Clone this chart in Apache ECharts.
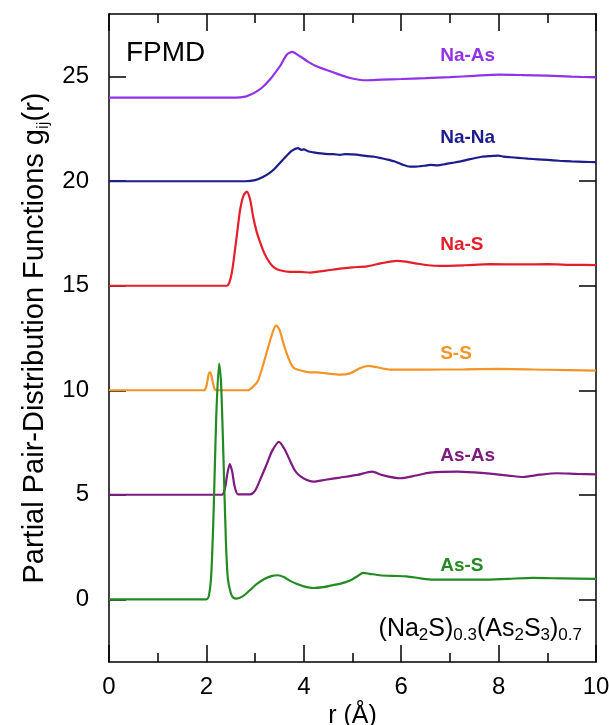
<!DOCTYPE html>
<html>
<head>
<meta charset="utf-8">
<script src="https://cdn.jsdelivr.net/npm/echarts@6/dist/echarts.min.js"></script>
<style>
html,body{margin:0;padding:0;background:#fff;overflow:hidden;}
#chart{width:609px;height:725px;}
</style>
</head>
<body>
<div id="chart"></div>
<script>
// ---- data (r in Å, g(r) with vertical offsets as plotted) ----
const seriesNames = ['Na-As', 'Na-Na', 'Na-S', 'S-S', 'As-As', 'As-S'];

const naAs = [[0,24],[2.6,24],[2.8,24.05],[2.9,24.14],[3.0,24.25],[3.14,24.47],[3.3,24.85],[3.4,25.15],[3.51,25.5],[3.65,26.05],[3.76,26.19],[3.92,25.98],[4.1,25.7],[4.26,25.5],[4.6,25.21],[4.95,24.94],[5.29,24.83],[5.6,24.86],[6.0,24.89],[6.5,24.93],[7.0,24.98],[7.5,25.04],[8.0,25.1],[8.5,25.08],[9.0,25.05],[9.5,25.0],[10,24.97]];

const naNa = [[0,20],[2.8,20],[3.0,20.05],[3.16,20.2],[3.3,20.4],[3.4,20.6],[3.5,20.85],[3.6,21.1],[3.75,21.45],[3.88,21.58],[3.95,21.5],[4.0,21.52],[4.1,21.42],[4.2,21.38],[4.35,21.33],[4.5,21.3],[4.6,21.3],[4.74,21.26],[4.85,21.3],[5.0,21.28],[5.15,21.25],[5.3,21.2],[5.45,21.17],[5.6,21.1],[5.75,21.02],[5.87,20.94],[6.0,20.82],[6.18,20.7],[6.3,20.7],[6.4,20.72],[6.5,20.75],[6.6,20.78],[6.75,20.76],[6.9,20.82],[7.05,20.88],[7.2,20.94],[7.35,21.02],[7.5,21.1],[7.65,21.17],[7.82,21.2],[8.0,21.22],[8.1,21.18],[8.23,21.15],[8.4,21.12],[8.6,21.08],[8.8,21.05],[9.0,21.02],[9.25,20.98],[9.5,20.95],[9.75,20.93],[10,20.91]];

const naS = [[0,15],[2.42,15],[2.47,15.15],[2.52,15.6],[2.57,16.4],[2.63,17.5],[2.69,18.6],[2.76,19.3],[2.83,19.5],[2.9,19.1],[2.96,18.3],[3.03,17.6],[3.1,17.1],[3.2,16.5],[3.31,16.07],[3.4,15.85],[3.51,15.74],[3.72,15.66],[3.92,15.66],[4.13,15.63],[4.45,15.72],[4.74,15.82],[5.0,15.88],[5.3,15.93],[5.6,16.08],[5.91,16.19],[6.1,16.15],[6.32,16.06],[6.55,15.98],[6.8,15.95],[7.3,15.98],[7.82,16.03],[8.5,16.02],[9.0,16.03],[9.5,16.0],[10,15.99]];

const sS = [[0,10],[1.95,10],[2.0,10.2],[2.05,10.8],[2.08,10.86],[2.12,10.5],[2.17,10.05],[2.22,10],[2.85,10],[2.95,10.15],[3.06,10.46],[3.15,11.1],[3.25,11.9],[3.35,12.7],[3.43,13.1],[3.5,12.9],[3.6,12.1],[3.7,11.45],[3.78,11.1],[3.88,10.98],[4.13,10.86],[4.27,10.86],[4.5,10.8],[4.74,10.75],[4.95,10.81],[5.15,11.05],[5.32,11.17],[5.5,11.1],[5.77,10.99],[6.5,10.99],[7.3,11.0],[8.0,11.02],[9.0,10.98],[10,10.94]];

const asAs = [[0,5],[2.32,5],[2.38,5.3],[2.43,6.0],[2.48,6.47],[2.53,6.1],[2.58,5.4],[2.65,5.02],[2.9,5.02],[3.0,5.2],[3.1,5.7],[3.24,6.47],[3.35,7.1],[3.49,7.53],[3.6,7.2],[3.72,6.62],[3.82,6.15],[3.92,5.9],[4.05,5.72],[4.19,5.63],[4.45,5.72],[4.74,5.82],[5.1,5.95],[5.4,6.11],[5.6,5.95],[5.98,5.79],[6.3,5.92],[6.59,6.06],[7.15,6.11],[7.5,6.07],[7.82,6.01],[8.2,5.92],[8.5,5.85],[8.85,5.96],[9.2,6.03],[9.6,6.0],[10,5.98]];

const asS = [[0,0],[2.0,0],[2.05,0.15],[2.1,1.2],[2.15,4.3],[2.2,8.6],[2.26,11.28],[2.3,10.4],[2.35,6.8],[2.4,2.8],[2.44,1.0],[2.5,0.3],[2.55,0.08],[2.62,0.03],[2.75,0.15],[2.9,0.45],[3.03,0.72],[3.2,0.98],[3.35,1.12],[3.47,1.15],[3.6,1.05],[3.72,0.88],[3.85,0.74],[4.0,0.62],[4.19,0.54],[4.4,0.58],[4.6,0.68],[4.74,0.74],[4.95,0.9],[5.1,1.1],[5.22,1.26],[5.35,1.22],[5.56,1.15],[5.8,1.12],[6.11,1.1],[6.4,1.0],[6.66,0.94],[7.2,0.94],[7.68,0.94],[8.2,0.98],[8.71,1.02],[9.3,1.0],[10,0.98]];

const seriesData = [naAs, naNa, naS, sS, asAs, asS];
const seriesColors = ['#9132e6', '#1c1c8c', '#e3202a', '#f29426', '#7e1a80', '#228b22'];

// label anchor positions (data coords, left-aligned, vertically centred)
const labelX = [6.8, 6.8, 6.8, 6.8, 6.8, 6.8];
const labelY = [26.0, 22.1, 16.96, 11.75, 6.89, 1.61];

const xTicks = [0, 2, 4, 6, 8, 10];
const yTicks = [0, 5, 10, 15, 20, 25];

const chart = echarts.init(document.getElementById('chart'), null, {renderer: 'canvas'});
const FONT = 'Liberation Sans, Arial, sans-serif';

const series = seriesNames.map((n, i) => ({
  name: n,
  type: 'line',
  data: seriesData[i],
  showSymbol: false,
  smooth: 0.25,
  lineStyle: {color: seriesColors[i], width: 2.2},
  itemStyle: {color: seriesColors[i]},
  z: 3
}));

const tickCommon = {show: true, inside: true, length: 17, lineStyle: {color: '#000', width: 1.5}};
const minorCommon = {show: true, splitNumber: 2, length: 9, lineStyle: {color: '#000', width: 1.5}};
const lineCommon = {show: true, onZero: false, lineStyle: {color: '#000', width: 1.5}};

const option = {
  animation: false,
  backgroundColor: '#fff',
  grid: {left: 109, right: 13, top: 14, bottom: 63, containLabel: false, outerBoundsMode: 'none'},
  xAxis: [
    {
      type: 'value', min: 0, max: 10, interval: 2, position: 'bottom',
      axisLine: lineCommon, axisTick: tickCommon, minorTick: minorCommon,
      splitLine: {show: false},
      axisLabel: {color: '#000', fontFamily: FONT, fontSize: 24, margin: 13,
        formatter: v => xTicks.includes(v) ? String(v) : ''},
      name: 'r (Å)', nameLocation: 'middle', nameGap: 37,
      nameTextStyle: {color: '#000', fontFamily: FONT, fontSize: 25}
    },
    {
      type: 'value', min: 0, max: 10, interval: 2, position: 'top',
      axisLine: lineCommon, axisTick: tickCommon, minorTick: minorCommon,
      splitLine: {show: false}, axisLabel: {show: false}
    }
  ],
  yAxis: [
    {
      type: 'value', min: -3, max: 28, interval: 5, position: 'left',
      axisLine: lineCommon,
      splitLine: {show: false},
      axisLabel: {color: '#000', fontFamily: FONT, fontSize: 24, margin: 20,
        customValues: yTicks},
      axisTick: Object.assign({}, tickCommon, {customValues: yTicks}),
      name: 'Partial Pair-Distribution Functions g{sub|ij}(r)',
      nameLocation: 'middle', nameGap: 68, nameRotate: 90,
      nameTextStyle: {
        color: '#000', fontFamily: FONT, fontSize: 29, lineHeight: 33, verticalAlign: 'top',
        rich: {
          sub: {fontFamily: FONT, fontSize: 17, color: '#000', verticalAlign: 'bottom', lineHeight: 19, padding: [16, 0, 0, 0]}
        }
      }
    },
    {
      type: 'value', min: -3, max: 28, interval: 5, position: 'right',
      axisLine: lineCommon,
      axisTick: Object.assign({}, tickCommon, {customValues: yTicks}),
      splitLine: {show: false}, axisLabel: {show: false}
    }
  ],
  series: series
};

chart.setOption(option);

// series name labels placed at data coordinates
const labelGraphics = seriesNames.map((n, i) => {
  const p = chart.convertToPixel({xAxisIndex: 0, yAxisIndex: 0}, [labelX[i], labelY[i]]);
  return {
    type: 'text', x: p[0], y: p[1], z: 10,
    style: {text: n, fill: seriesColors[i], font: 'bold 19px ' + FONT,
      textAlign: 'left', textVerticalAlign: 'middle', verticalAlign: 'middle'}
  };
});

chart.setOption({
  graphic: labelGraphics.concat([
    {
      type: 'text', left: 126, top: 39, z: 10,
      style: {text: 'FPMD', fill: '#000', font: '28px ' + FONT}
    },
    {
      type: 'text', right: 27, top: 612, z: 10,
      style: {
        text: '{m|(Na}{s|2}{m|S)}{s|0.3}{m|(As}{s|2}{m|S}{s|3}{m|)}{s|0.7}',
        rich: {
          m: {fontFamily: FONT, fontSize: 25, fill: '#000', lineHeight: 27, verticalAlign: 'top'},
          s: {fontFamily: FONT, fontSize: 17, fill: '#000', lineHeight: 19, verticalAlign: 'bottom', padding: [15, 0, 0, 0]}
        }
      }
    }
  ])
});
</script>
</body>
</html>
